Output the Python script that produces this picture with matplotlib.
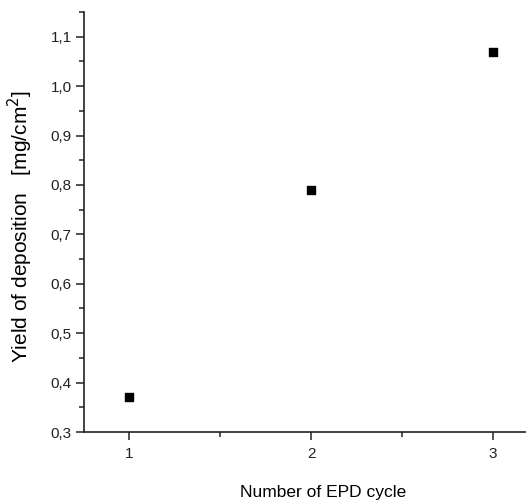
import numpy as np
import matplotlib.pyplot as plt
from matplotlib.ticker import MultipleLocator, FuncFormatter

cycles = [1, 2, 3]
yield_dep = [0.37, 0.79, 1.07]

plt.rcParams['font.family'] = ['Liberation Sans', 'DejaVu Sans']

fig = plt.figure(figsize=(5.26, 5.04), dpi=100)
W, H = 526, 504
# axes box in pixels: left spine at 84, bottom at 432, top at 12, right beyond figure
ax = fig.add_axes([84 / W, (H - 432) / H, (562 - 84) / W, (432 - 12) / H])

ax.scatter(cycles, yield_dep, marker='s', s=36, color='black', zorder=3)

ax.set_xlim(0.75, 3.38)
ax.set_ylim(0.3, 1.15)

for s in ['top', 'right']:
    ax.spines[s].set_visible(False)
for s in ['left', 'bottom']:
    ax.spines[s].set_linewidth(1.2)
    ax.spines[s].set_color('#222222')

ax.xaxis.set_major_locator(MultipleLocator(1))
ax.xaxis.set_minor_locator(MultipleLocator(0.5))
ax.yaxis.set_major_locator(MultipleLocator(0.1))
ax.yaxis.set_minor_locator(MultipleLocator(0.05))
ax.yaxis.set_major_formatter(FuncFormatter(lambda v, p: f'{v:.1f}'.replace('.', ',')))
ax.tick_params(which='major', direction='out', length=6, width=1.1, labelsize=11, colors='#222222')
ax.tick_params(which='minor', direction='out', length=3.5, width=1.1, colors='#222222')
ax.tick_params(axis='y', pad=3)
ax.tick_params(axis='x', pad=5)

ax.set_xlabel('Number of EPD cycle', fontsize=12.5, labelpad=17)
ax.set_ylabel('Yield of deposition   [mg/cm$^2$]', fontsize=15)
ax.yaxis.set_label_coords((35 - 84) / 478, (432 - 227) / 420)

fig.savefig('out.png', dpi=100)
